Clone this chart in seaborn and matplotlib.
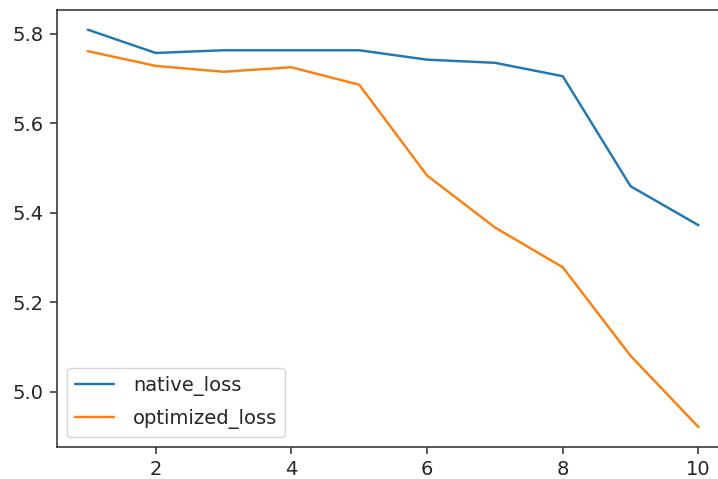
import numpy as np
import pandas as pd
import matplotlib
matplotlib.use("Agg")
import matplotlib.pyplot as plt
import seaborn as sns

epochs = [1, 2, 3, 4, 5, 6, 7, 8, 9, 10]
native_loss = [5.809, 5.757, 5.763, 5.763, 5.763, 5.742, 5.735, 5.705, 5.459, 5.372]
optimized_loss = [5.761, 5.728, 5.715, 5.725, 5.686, 5.483, 5.367, 5.278, 5.080, 4.921]

df = pd.DataFrame({"epoch": epochs, "native_loss": native_loss, "optimized_loss": optimized_loss})
long_df = df.melt(id_vars="epoch", var_name="series", value_name="loss")

sns.set_style("ticks")
plt.rcParams.update({
    "font.family": ["DejaVu Sans"],
    "font.size": 14,
    "xtick.labelsize": 14,
    "ytick.labelsize": 14,
    "legend.fontsize": 14,
    "axes.edgecolor": "#333333",
    "axes.linewidth": 1.15,
    "xtick.color": "#333333",
    "ytick.color": "#333333",
    "xtick.major.size": 4.9,
    "ytick.major.size": 4.9,
    "xtick.major.width": 1.15,
    "ytick.major.width": 1.15,
    "xtick.major.pad": 4.9,
    "ytick.major.pad": 4.9,
    "xtick.labelcolor": "#262626",
    "ytick.labelcolor": "#262626",
})

fig = plt.figure(figsize=(7.18, 4.79), dpi=100)
ax = fig.add_axes([57.3 / 718, (479 - 446.7) / 479, (729 - 57.3) / 718, (446.7 - 10) / 479])
sns.lineplot(data=long_df, x="epoch", y="loss", hue="series",
             palette=["#1f77b4", "#ff7f0e"], linewidth=1.75, ax=ax)
ax.set_xlabel("")
ax.set_ylabel("")
ax.set_xticks([2, 4, 6, 8, 10])
ax.set_yticks([5.0, 5.2, 5.4, 5.6, 5.8])
ax.set_xlim(0.55, 10.45)
ax.set_ylim(4.877, 5.853)
ax.legend(loc="lower left", frameon=True, framealpha=0.8, edgecolor="#cccccc", fancybox=True,
          handletextpad=1.0, labelspacing=0.7)
fig.savefig("out.png", dpi=100)
